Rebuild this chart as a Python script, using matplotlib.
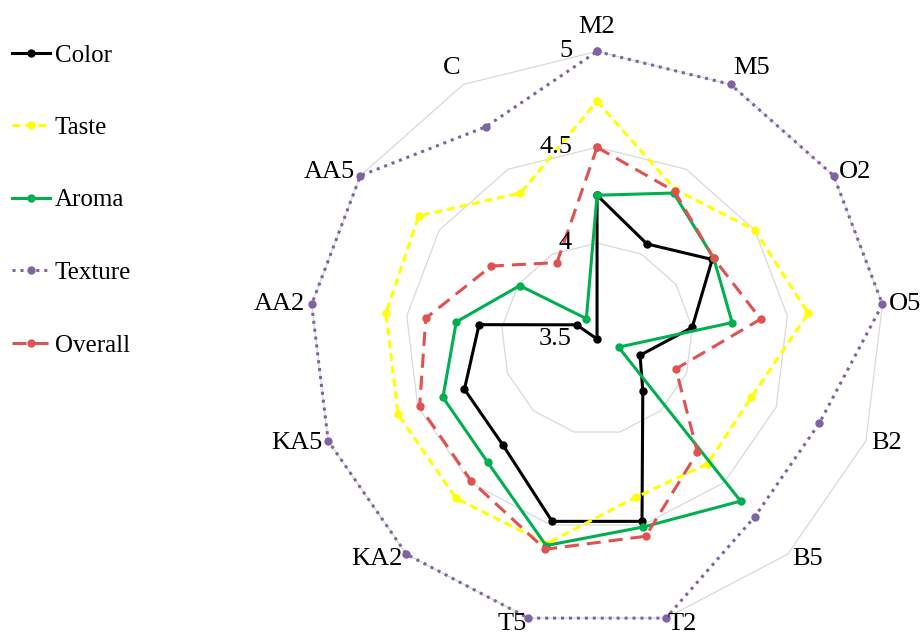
import numpy as np
import matplotlib.pyplot as plt

plt.rcParams['font.family'] = ['Liberation Serif', 'DejaVu Serif']

# sensory scores per sample, clockwise from the top
categories = ['M2', 'M5', 'O2', 'O5', 'B2', 'B5', 'T2', 'T5',
              'KA2', 'KA5', 'AA2', 'AA5', 'C']
color = [4.25, 4.06, 4.23, 4.00, 3.74, 3.86, 4.48, 4.48, 4.24, 4.24, 4.12, 3.63, 3.50]
taste = [4.74, 4.38, 4.50, 4.61, 4.36, 4.37, 4.35, 4.60, 4.61, 4.61, 4.61, 4.63, 4.36]
aroma = [4.25, 4.36, 4.24, 4.21, 3.62, 4.63, 4.51, 4.61, 4.36, 4.36, 4.24, 3.99, 3.62]
texture = [5.00, 5.00, 5.00, 5.00, 4.74, 4.74, 5.00, 5.00, 5.00, 5.00, 5.00, 5.00, 4.75]
overall = [4.50, 4.37, 4.24, 4.36, 3.94, 4.29, 4.56, 4.63, 4.49, 4.49, 4.40, 4.17, 3.95]

ring_levels = [3.5, 4, 4.5, 5]
ring_labels = ['3.5', '4', '4.5', '5']

n = len(categories)
angles = np.arange(n) * 2 * np.pi / n


def closed(vals):
    return np.append(vals, vals[0])


fig = plt.figure(figsize=(9.24, 6.37), dpi=100)
ax = fig.add_axes([0.3350, 0.0165, 0.6223, 0.9027], projection='polar')
ax.set_theta_offset(np.pi / 2)
ax.set_theta_direction(-1)
ax.set_ylim(3.5, 5)
ax.grid(False)
ax.spines['polar'].set_visible(False)
ax.set_xticks([])
ax.set_yticks([])

# polygon grid
for lvl in ring_levels[1:]:
    ax.plot(closed(angles), [lvl] * (n + 1), color='#d9d9d9', lw=0.9,
            zorder=1, clip_on=False)

series = [
    ('Color', color, dict(color='black', linestyle='-')),
    ('Taste', taste, dict(color='#FFFF00', linestyle=(0, (2.6, 1.6)))),
    ('Aroma', aroma, dict(color='#00B050', linestyle='-')),
    ('Texture', texture, dict(color='#8064A2', linestyle=(0, (1.0, 1.6)))),
    ('Overall', overall, dict(color='#E05250', linestyle=(0, (4.6, 2.6)))),
]
for name, vals, style in series:
    ax.plot(closed(angles), closed(vals), lw=2.2, marker='o', markersize=5,
            label=name, clip_on=False, zorder=3, **style)

# category labels around the outside
for a, lab in zip(angles, categories):
    phi = np.pi / 2 - a
    cx, cy = np.cos(phi), np.sin(phi)
    if abs(cx) < 0.05:
        ha = 'center'
    else:
        ha = 'left' if cx > 0 else 'right'
    va = 'bottom' if cy > 0.8 else 'center'
    if ha == 'center':
        d = 10
    elif cy < -0.8:
        d = 4
    else:
        d = 4.5
    ax.annotate(lab, xy=(a, 5), xytext=(d * cx, d * cy),
                textcoords='offset points', ha=ha, va=va, fontsize=19,
                annotation_clip=False)

# radial value labels along the top spoke
for lvl, lab in zip(ring_levels, ring_labels):
    ax.annotate(lab, xy=(0, lvl), xytext=(-18, 0), textcoords='offset points',
                ha='right', va='center', fontsize=19, annotation_clip=False)

fig.legend(loc='upper left', bbox_to_anchor=(12 / 924, 1 - 44 / 637),
           frameon=False, fontsize=18, handlelength=1.5, handletextpad=0.2,
           labelspacing=2.0, borderpad=0, borderaxespad=0)

fig.savefig('out.png', dpi=100)
